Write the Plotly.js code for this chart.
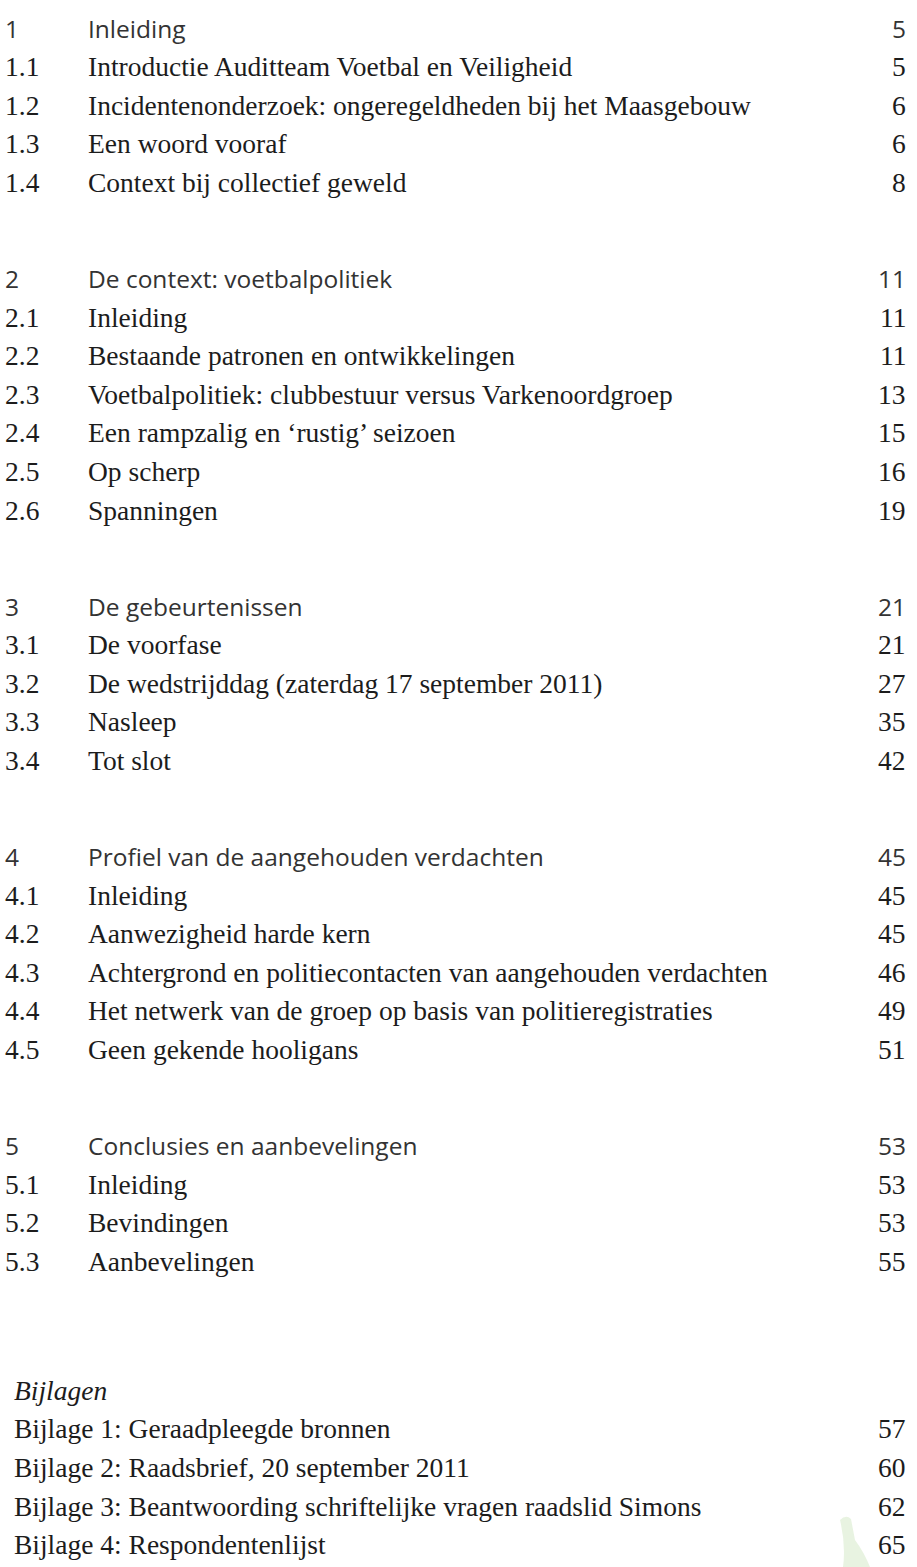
<!DOCTYPE html>
<html>
<head>
<meta charset="utf-8">
<script src="https://cdn.plot.ly/plotly-3.0.1.min.js"></script>
<style>html,body{margin:0;padding:0;background:#fff;}#toc{width:917px;height:1567px;}</style>
</head>
<body>
<div id="toc"></div>
<script>
// Chapter headings
var chapterNumbers = ["1", "2", "3", "4", "5"];
var chapterTitles = ["Inleiding", "De context: voetbalpolitiek", "De gebeurtenissen", "Profiel van de aangehouden verdachten", "Conclusies en aanbevelingen"];
var chapterPages = [5, 11, 21, 45, 53];

// Sections per chapter
var sectionNumbers = [
  ["1.1", "1.2", "1.3", "1.4"],
  ["2.1", "2.2", "2.3", "2.4", "2.5", "2.6"],
  ["3.1", "3.2", "3.3", "3.4"],
  ["4.1", "4.2", "4.3", "4.4", "4.5"],
  ["5.1", "5.2", "5.3"]
];
var sectionTitles = [
  ["Introductie Auditteam Voetbal en Veiligheid", "Incidentenonderzoek: ongeregeldheden bij het Maasgebouw", "Een woord vooraf", "Context bij collectief geweld"],
  ["Inleiding", "Bestaande patronen en ontwikkelingen", "Voetbalpolitiek: clubbestuur versus Varkenoordgroep", "Een rampzalig en \u2018rustig\u2019 seizoen", "Op scherp", "Spanningen"],
  ["De voorfase", "De wedstrijddag (zaterdag 17 september 2011)", "Nasleep", "Tot slot"],
  ["Inleiding", "Aanwezigheid harde kern", "Achtergrond en politiecontacten van aangehouden verdachten", "Het netwerk van de groep op basis van politieregistraties", "Geen gekende hooligans"],
  ["Inleiding", "Bevindingen", "Aanbevelingen"]
];
var sectionPages = [
  [5, 6, 6, 8],
  [11, 11, 13, 15, 16, 19],
  [21, 27, 35, 42],
  [45, 45, 46, 49, 51],
  [53, 53, 55]
];

// Appendices
var appendixHeader = "Bijlagen";
var appendixTitles = ["Bijlage 1: Geraadpleegde bronnen", "Bijlage 2: Raadsbrief, 20 september 2011", "Bijlage 3: Beantwoording schriftelijke vragen raadslid Simons", "Bijlage 4: Respondentenlijst"];
var appendixPages = [57, 60, 62, 65];

// ---- layout: vertical positions in pixel units, computed from the ordering ----
var SERIF = "'Liberation Serif', 'DejaVu Serif', serif";
var SANS = "'Open Sans', 'Lato', 'Roboto', sans-serif";
var INK = "#1c1c1c";
var COL_NUM = 3, COL_TITLE = 86, COL_PAGE = 908;
var STEP = 38.6, CHAPTER_GAP = 96, APPENDIX_GAP = 129, START = 28;

var ann = [];
function add(x, y, text, font, xanchor) {
  ann.push({x: x, y: y, xref: 'x', yref: 'y', text: text, showarrow: false,
            xanchor: xanchor, yanchor: 'middle', font: font});
}
var headFont = {family: SANS, size: 24.5, color: '#333333', weight: 400};
var itemFont = {family: SERIF, size: 27.5, color: INK};

var y = START;
for (var c = 0; c < chapterNumbers.length; c++) {
  add(COL_NUM, y, chapterNumbers[c], headFont, 'left');
  add(COL_TITLE, y, chapterTitles[c], headFont, 'left');
  add(COL_PAGE, y, String(chapterPages[c]), headFont, 'right');
  for (var s = 0; s < sectionNumbers[c].length; s++) {
    y += STEP;
    add(COL_NUM, y, sectionNumbers[c][s], itemFont, 'left');
    add(COL_TITLE, y, sectionTitles[c][s], itemFont, 'left');
    add(COL_PAGE, y, String(sectionPages[c][s]), itemFont, 'right');
  }
  y += (c < chapterNumbers.length - 1) ? CHAPTER_GAP : APPENDIX_GAP;
}
add(COL_NUM + 9, y, appendixHeader, {family: SERIF, size: 27.5, color: INK, style: 'italic'}, 'left');
for (var a = 0; a < appendixTitles.length; a++) {
  y += STEP;
  add(COL_NUM + 9, y, appendixTitles[a], itemFont, 'left');
  add(COL_PAGE, y, String(appendixPages[a]), itemFont, 'right');
}

var H = 1567, W = 917;
var layout = {
  width: W, height: H,
  margin: {l: 0, r: 0, t: 0, b: 0},
  paper_bgcolor: '#ffffff', plot_bgcolor: '#ffffff',
  showlegend: false,
  xaxis: {range: [0, W], visible: false, fixedrange: true},
  yaxis: {range: [H, 0], visible: false, fixedrange: true},
  annotations: ann,
  shapes: [{
    type: 'path', xref: 'x', yref: 'y', layer: 'below',
    path: 'M 840 1520 Q 846 1514 851 1519 L 855 1540 Q 864 1552 870 1567 L 843 1567 Q 846 1545 840 1520 Z',
    fillcolor: 'rgba(150,200,120,0.22)', line: {width: 0}
  }]
};
Plotly.newPlot('toc', [{x: [], y: [], type: 'scatter', mode: 'markers', hoverinfo: 'skip'}], layout, {staticPlot: true, displayModeBar: false});
</script>
</body>
</html>
